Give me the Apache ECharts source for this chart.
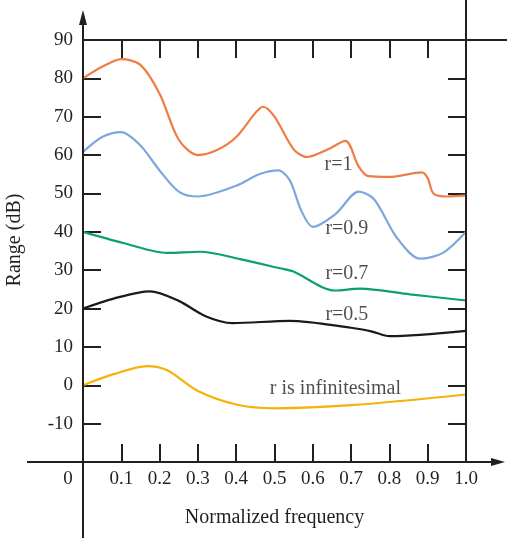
<!DOCTYPE html>
<html>
<head>
<meta charset="utf-8">
<script src="https://cdn.jsdelivr.net/npm/echarts@6/dist/echarts.min.js"></script>
<style>
html,body{margin:0;padding:0;background:#fff;}
#main{width:507px;height:538px;}
</style>
</head>
<body>
<div id="main"></div>
<script>
// 曲线数据 [归一化频率, dB]
var r1Points = [[0,80],[0.05,83],[0.1,85],[0.15,83.5],[0.2,76],[0.25,64],[0.3,60],[0.35,61.3],[0.40,64.7],[0.45,71],[0.47,72.6],[0.5,70],[0.55,61.5],[0.585,59.5],[0.64,61.5],[0.685,63.7],[0.72,57],[0.745,54.5],[0.8,54.3],[0.885,55.5],[0.9,54],[0.915,50],[0.95,49.2],[1.0,49.5]];
var r09Points = [[0,60.8],[0.05,64.7],[0.1,66],[0.15,62.5],[0.2,56],[0.25,50.5],[0.3,49.2],[0.4,52],[0.46,55],[0.51,56],[0.54,53.4],[0.57,45.5],[0.6,41.3],[0.66,44.7],[0.72,50.5],[0.76,48.5],[0.82,38.4],[0.88,33],[0.94,34.5],[1.0,40]];
var r07Points = [[0,40],[0.105,37.1],[0.22,34.5],[0.305,34.8],[0.41,32.9],[0.514,30.5],[0.548,29.7],[0.658,24.7],[0.723,25.2],[0.854,23.7],[1.0,22.1]];
var r05Points = [[0,20],[0.08,22.6],[0.175,24.5],[0.25,22],[0.32,18],[0.39,16.2],[0.54,16.8],[0.7,15],[0.755,14],[0.8,12.8],[1.0,14.2]];
var rInfPoints = [[0,0],[0.08,2.9],[0.167,5],[0.22,3.9],[0.3,-1.5],[0.4,-5],[0.5,-6],[0.7,-5.2],[1.0,-2.4]];

var xTickLabels = ['0','0.1','0.2','0.3','0.4','0.5','0.6','0.7','0.8','0.9','1.0'];
var yTickLabels = ['','-10','0','10','20','30','40','50','60','70','80','90'];

// 曲线旁的文字
var curveNotes = [
	{name:'r=1', value:[0.667,57.4]},
	{name:'r=0.9', value:[0.689,40.7]},
	{name:'r=0.7', value:[0.689,29.2]},
	{name:'r=0.5', value:[0.689,18.4]},
	{name:'r is infinitesimal', value:[0.659,-0.8]}
];

var ink = '#231f20';
var serif = '"Liberation Serif", "DejaVu Serif", serif';

var myChart = echarts.init(document.getElementById('main'));

function curve(data, color){
	return {
		type:'line',
		data:data,
		smooth:0.3,
		symbol:'none',
		clip:false,
		lineStyle:{color:color, width:2.2},
		z:3
	};
}

var axLine = {onZero:false, lineStyle:{color:ink, width:2}};
var axTick = {inside:true, length:18, lineStyle:{color:ink, width:2}};

var option = {
	animation:false,
	grid:{left:83, right:41, top:40, bottom:76, outerBoundsMode:'none', containLabel:false},
	xAxis:[
		{
			type:'value', min:0, max:1, interval:0.1, position:'bottom',
			name:'Normalized frequency', nameLocation:'middle', nameGap:46,
			nameTextStyle:{fontFamily:serif, fontSize:20, color:ink},
			axisLine:axLine,
			axisTick:axTick,
			splitLine:{show:false},
			axisLabel:{
				margin:8, fontFamily:serif, fontSize:19, color:ink,
				formatter:function(v){
					var idx = Math.round(v*10);
					if(idx === 0){ return '{o|' + xTickLabels[0] + '}'; }
					return xTickLabels[idx];
				},
				rich:{o:{fontFamily:serif, fontSize:19, color:ink, padding:[0,30,0,0]}}
			}
		},
		{
			type:'value', min:0, max:1, interval:0.1, position:'top',
			axisLine:axLine,
			axisTick:axTick,
			axisLabel:{show:false},
			splitLine:{show:false}
		}
	],
	yAxis:[
		{
			type:'value', min:-20, max:90, interval:10, position:'left',
			name:'Range (dB)', nameLocation:'middle', nameGap:58,
			nameTextStyle:{fontFamily:serif, fontSize:20, color:ink, padding:[0,0,0,22]},
			axisLine:axLine,
			axisTick:axTick,
			splitLine:{show:false},
			axisLabel:{
				margin:10, fontFamily:serif, fontSize:19, color:ink,
				formatter:function(v){ return yTickLabels[Math.round((v+20)/10)]; }
			}
		},
		{
			type:'value', min:-20, max:90, interval:10, position:'right',
			axisLine:axLine,
			axisTick:axTick,
			axisLabel:{show:false},
			splitLine:{show:false}
		}
	],
	series:[
		curve(r1Points, '#ee7d45'),
		curve(r09Points, '#7ea7dc'),
		curve(r07Points, '#0ba06c'),
		curve(r05Points, '#1a1a1a'),
		curve(rInfPoints, '#f6b10a'),
		{
			type:'scatter',
			data:curveNotes,
			symbolSize:0,
			z:4,
			label:{
				show:true, position:'inside', formatter:'{b}',
				fontFamily:serif, fontSize:20, color:ink
			}
		}
	]
};
myChart.setOption(option);

// 轴线延长 + 箭头
var pLB = myChart.convertToPixel({xAxisIndex:0, yAxisIndex:0}, [0,-20]);
var pRT = myChart.convertToPixel({xAxisIndex:0, yAxisIndex:0}, [1,90]);
var W = myChart.getWidth(), H = myChart.getHeight();
var axStyle = {stroke:ink, lineWidth:2};
myChart.setOption({
	graphic:[
		{type:'line', shape:{x1:pLB[0], y1:22, x2:pLB[0], y2:H}, style:axStyle, z:10},
		{type:'polygon', shape:{points:[[pLB[0],10],[pLB[0]-4,25],[pLB[0]+4,25]]}, style:{fill:ink}, z:10},
		{type:'line', shape:{x1:27, y1:pLB[1], x2:494, y2:pLB[1]}, style:axStyle, z:10},
		{type:'polygon', shape:{points:[[505,pLB[1]],[491,pLB[1]-4],[491,pLB[1]+4]]}, style:{fill:ink}, z:10},
		{type:'line', shape:{x1:pLB[0], y1:pRT[1], x2:W, y2:pRT[1]}, style:axStyle, z:10},
		{type:'line', shape:{x1:pRT[0], y1:0, x2:pRT[0], y2:pLB[1]}, style:axStyle, z:10}
	]
});
</script>
</body>
</html>
